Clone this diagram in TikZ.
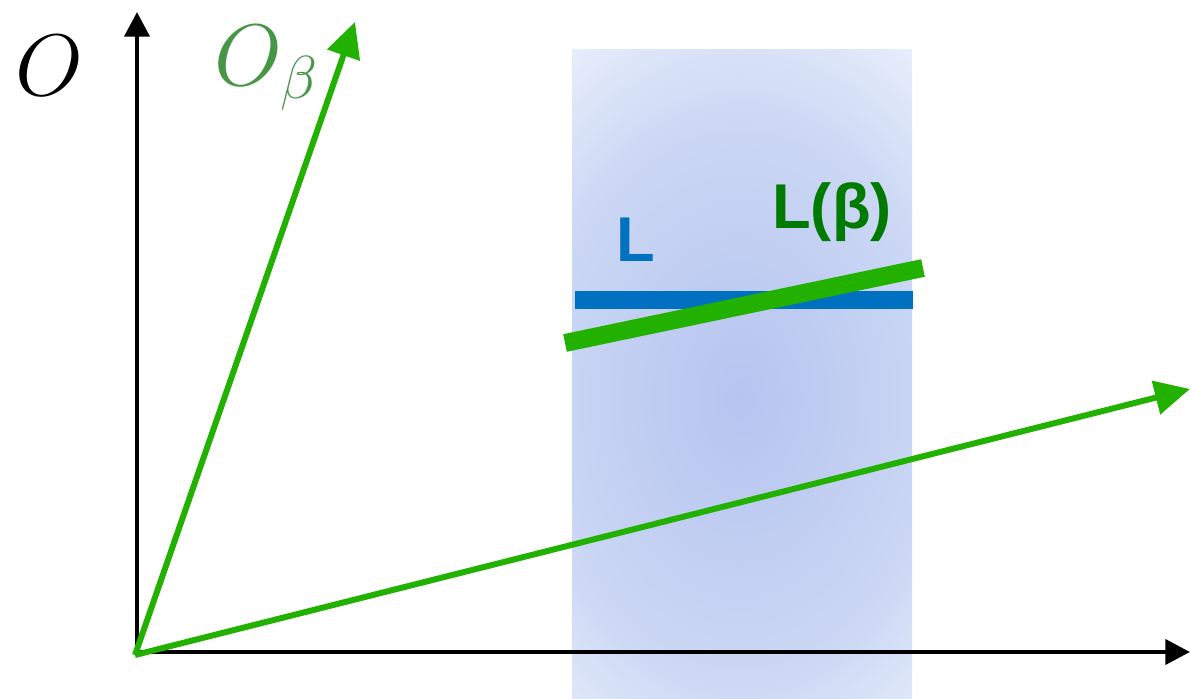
\documentclass[tikz,border=0pt]{standalone}
\usepackage{fontspec}
\setsansfont{Liberation Sans}
\usetikzlibrary{arrows.meta}

\definecolor{axisgreen}{RGB}{34,177,0}
\definecolor{labelgreen}{RGB}{0,122,0}
\definecolor{lightgreen}{RGB}{70,150,70}
\definecolor{lineblue}{RGB}{0,112,192}
\definecolor{lensin}{RGB}{182,196,240}
\definecolor{lensmid}{RGB}{203,215,244}
\definecolor{lensout}{RGB}{238,244,253}

\pgfdeclareradialshading{lensglow}{\pgfpoint{0bp}{0bp}}{%
  color(0bp)=(lensin); color(15bp)=(lensmid); color(25bp)=(lensout);
  color(50bp)=(lensout)}

\tikzset{
  axis/.style={line width=1.4pt, -{Triangle[length=7pt,width=7pt]}},
  frame/.style={axisgreen, line width=1.7pt, -{Triangle[length=10pt,width=9.5pt]}},
  bar/.style={line width=5.1pt},
  biglabel/.style={font=\sffamily\bfseries\fontsize{18}{18}\selectfont},
  mathlabel/.style={font=\fontsize{23}{23}\selectfont}
}

\begin{document}
\begin{tikzpicture}

\useasboundingbox (0,0) rectangle (11.9,6.99);

% Shaded band
\fill[lensout] (5.72,-0.2) rectangle (9.12,6.49);
\begin{scope}
  \clip (5.72,-0.2) rectangle (9.12,6.49);
  \shade[shading=lensglow] (7.4,3.0) ellipse (3.3 and 4.6);
\end{scope}

% Points
\coordinate (orig) at (1.37,0.47);
\coordinate (ytip) at (1.37,6.87);
\coordinate (xtip) at (11.9,0.47);
\coordinate (gorig) at (1.35,0.44);
\coordinate (gytip) at (3.55,6.77);
\coordinate (gxtip) at (11.9,3.10);

% Axes
\draw[axis] (orig) -- (ytip);
\draw[axis] (orig) -- (xtip);

% Rotated frame
\draw[frame] (gorig) -- (gytip);
\draw[frame] (gorig) -- (gxtip);

% Lines L and L(beta)
\coordinate (lstart) at (5.75,3.99);
\coordinate (lend) at (9.13,3.99);
\coordinate (bstart) at (5.65,3.56);
\coordinate (bend) at (9.23,4.31);
\draw[bar, lineblue] (lstart) -- (lend);
\draw[bar, axisgreen] (bstart) -- (bend);

% Labels
\node[mathlabel] (olabel) at (0.49,6.33) {$O$};
\node[mathlabel, text=lightgreen] (oblabel) at (2.67,6.31) {$O_\beta$};
\node[biglabel, text=lineblue] (llabel) at (6.36,4.59) {L};
\node[biglabel, text=labelgreen] (lblabel) at (8.32,4.87) {L(β)};

\end{tikzpicture}
\end{document}
